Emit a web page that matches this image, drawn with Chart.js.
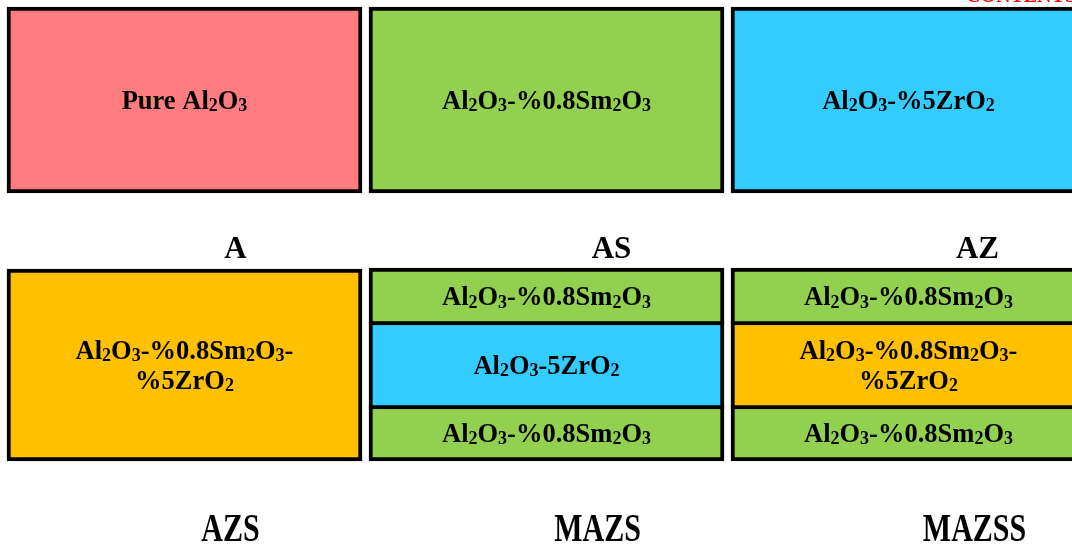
<!DOCTYPE html>
<html>
<head>
<meta charset="utf-8">
<script src="https://cdn.jsdelivr.net/npm/chart.js@4"></script>
<style>
  html, body { margin: 0; padding: 0; background: #fff; overflow: hidden; }
  #wrap { width: 1072px; height: 544px; position: relative; }
</style>
</head>
<body>
<div id="wrap"><canvas id="c"></canvas></div>
<script>
// ---- data ----
const columns = [0, 1, 2];
const topRowRange = [7, 193];
const topRowColors = ['#FF7C80', '#92D050', '#33CCFF'];
const topRowTexts = ['Pure Al_2O_3', 'Al_2O_3-%0.8Sm_2O_3', 'Al_2O_3-%5ZrO_2'];

// bottom row: layer 1 (AZS full box, MAZS top, MAZSS top)
const layer1Ranges = [[269, 461], [268, 325], [268, 325]];
const layer1Colors = ['#FFC000', '#92D050', '#92D050'];
const layer1Texts = ['Al_2O_3-%0.8Sm_2O_3-\n%5ZrO_2', 'Al_2O_3-%0.8Sm_2O_3', 'Al_2O_3-%0.8Sm_2O_3'];
// layer 2 (MAZS middle, MAZSS middle)
const layer2Columns = [1, 2];
const layer2Ranges = [[321, 409], [321, 409]];
const layer2Colors = ['#33CCFF', '#FFC000'];
const layer2Texts = ['Al_2O_3-5ZrO_2', 'Al_2O_3-%0.8Sm_2O_3-\n%5ZrO_2'];
// layer 3 (MAZS bottom, MAZSS bottom)
const layer3Columns = [1, 2];
const layer3Ranges = [[405, 461], [405, 461]];
const layer3Colors = ['#92D050', '#92D050'];
const layer3Texts = ['Al_2O_3-%0.8Sm_2O_3', 'Al_2O_3-%0.8Sm_2O_3'];

const topNames = ['A', 'AS', 'AZ'];
const bottomNames = ['AZS', 'MAZS', 'MAZSS'];
const cornerText = 'CONTENTS';

// ---- helpers ----
function toPoints(cols, ranges) {
  return cols.map((c, i) => ({ x: c, y: ranges[i] }));
}

function parseRich(str) {
  const segs = [];
  let buf = '';
  for (let i = 0; i < str.length; i++) {
    if (str[i] === '_' && i + 1 < str.length) {
      if (buf) { segs.push({ t: buf, sub: false }); buf = ''; }
      segs.push({ t: str[i + 1], sub: true });
      i++;
    } else buf += str[i];
  }
  if (buf) segs.push({ t: buf, sub: false });
  return segs;
}

const FAMILY = '"Liberation Serif", "Times New Roman", serif';

function drawRichLine(ctx, line, cx, baseline, size) {
  const segs = parseRich(line);
  const subSize = Math.round(size * 0.68);
  let total = 0;
  segs.forEach(s => {
    ctx.font = 'bold ' + (s.sub ? subSize : size) + 'px ' + FAMILY;
    s.w = ctx.measureText(s.t).width;
    total += s.w;
  });
  let x = cx - total / 2;
  ctx.textAlign = 'left';
  ctx.textBaseline = 'alphabetic';
  segs.forEach(s => {
    ctx.font = 'bold ' + (s.sub ? subSize : size) + 'px ' + FAMILY;
    ctx.fillText(s.t, x, baseline + (s.sub ? size * 0.1 : 0));
    x += s.w;
  });
}

const boxTextPlugin = {
  id: 'boxText',
  afterDatasetsDraw(chart, args, opts) {
    const ctx = chart.ctx;
    ctx.save();
    ctx.fillStyle = '#000';
    const size = 26.5, lineH = 30;
    chart.data.datasets.forEach((ds, di) => {
      const meta = chart.getDatasetMeta(di);
      meta.data.forEach((bar, i) => {
        const txt = ds.texts[i];
        if (!txt) return;
        const lines = txt.split('\n');
        const cy = (bar.y + bar.base) / 2;
        const first = cy - (lines.length - 1) * lineH / 2;
        lines.forEach((ln, k) => drawRichLine(ctx, ln, bar.x, first + k * lineH + size * 0.33, size));
      });
    });

    // sample names
    const xs = chart.scales.x;
    ctx.font = 'bold 31px ' + FAMILY;
    ctx.textAlign = 'center';
    ctx.textBaseline = 'alphabetic';
    const topOffsets = [51, 65, 69];
    topNames.forEach((n, i) => {
      ctx.fillText(n, xs.getPixelForValue(columns[i]) + topOffsets[i], 258);
    });
    const botOffsets = [46, 51, 66];
    bottomNames.forEach((n, i) => {
      ctx.save();
      ctx.translate(xs.getPixelForValue(columns[i]) + botOffsets[i], 541);
      ctx.scale(1, 1.32);
      ctx.font = 'bold 30px ' + FAMILY;
      ctx.fillText(n, 0, 0);
      ctx.restore();
    });

    // clipped red corner text
    ctx.fillStyle = '#FF0000';
    ctx.font = 'bold 20px ' + FAMILY;
    ctx.textAlign = 'left';
    ctx.fillText(cornerText, 966, 2);
    ctx.restore();
  }
};

const ds = (data, colors, texts) => ({
  data, texts,
  backgroundColor: colors,
  borderColor: '#000',
  borderWidth: 4,
  borderSkipped: false,
  barThickness: 355,
  grouped: false
});

const pxPerCol = 362;
const firstCenter = 184.5;
const xMin = -firstCenter / pxPerCol;
const xMax = xMin + 1072 / pxPerCol;

new Chart(document.getElementById('c'), {
  type: 'bar',
  data: {
    datasets: [
      ds(toPoints(columns, columns.map(() => topRowRange)), topRowColors, topRowTexts),
      ds(toPoints(columns, layer1Ranges), layer1Colors, layer1Texts),
      ds(toPoints(layer2Columns, layer2Ranges), layer2Colors, layer2Texts),
      ds(toPoints(layer3Columns, layer3Ranges), layer3Colors, layer3Texts)
    ]
  },
  options: {
    responsive: true,
    maintainAspectRatio: false,
    animation: false,
    layout: { padding: 0 },
    plugins: { legend: { display: false }, tooltip: { enabled: false } },
    scales: {
      x: { type: 'linear', min: xMin, max: xMax, offset: false, display: false },
      y: { type: 'linear', min: 0, max: 544, reverse: true, display: false }
    }
  },
  plugins: [boxTextPlugin]
});
</script>
</body>
</html>
